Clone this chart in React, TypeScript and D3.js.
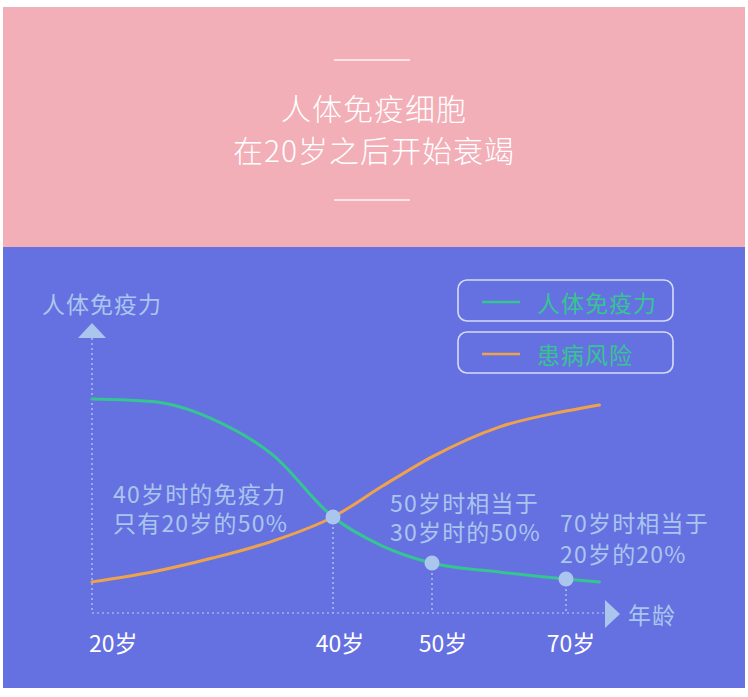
import React from "react";
import * as d3 from "d3";

const titleLines = ["人体免疫细胞", "在20岁之后开始衰竭"];
const ages = [20, 25, 30, 35, 40, 45, 50, 60, 70, 75];
const immunity = [100, 98.9, 91.5, 76.3, 50, 37.7, 30.5, 26.7, 23.7, 22.5];
const risk = [22.5, 26.7, 32.6, 39.8, 50, 63.1, 75.5, 88.1, 94.9, 97.5];
const tickAges = [20, 40, 50, 70];
const tickLabels = ["20岁", "40岁", "50岁", "70岁"];
const markerAges = [40, 50, 70];
const legendLabels = ["人体免疫力", "患病风险"];
const annotations = [
  { age: 40, lines: ["40岁时的免疫力", "只有20岁的50%"] },
  { age: 50, lines: ["50岁时相当于", "30岁时的50%"] },
  { age: 70, lines: ["70岁时相当于", "20岁的20%"] },
];
const yAxisLabel = "人体免疫力";
const xAxisLabel = "年龄";

const W = 748;
const H = 697;
const FONT = "'Noto Sans CJK SC', 'Noto Sans', sans-serif";
const PINK = "#f2afb8";
const BLUE = "#6571e1";
const GREEN = "#35c592";
const ORANGE = "#eea24c";
const LIGHT = "#aac6ee";
const DOT = "#c3cdf5";

export default function App() {
  const x = d3.scaleLinear().domain([20, 40, 50, 70]).range([92, 333, 432, 566]);
  const y = d3.scaleLinear().domain([0, 100]).range([635, 399]);
  const axisY = 613;
  const axisX = x(20);
  const line = d3
    .line<number>()
    .x((_, i) => x(ages[i]))
    .y((v) => y(v))
    .curve(d3.curveMonotoneX);
  const valueAt = (a: number) => immunity[ages.indexOf(a)];

  const annX = [x(40) - 220, x(50) - 42, x(70) - 6];
  const annY = [[492.5, 522], [502, 531], [522, 553]];
  const tickDx = [0, 7, 11, 5];

  return (
    <div style={{ position: "absolute", left: 0, top: 0 }}>
      <svg width={W} height={H} style={{ display: "block", fontFamily: FONT }}>
        <rect x={0} y={0} width={W} height={H} fill="#ffffff" />
        <rect x={3} y={7} width={742} height={240} fill={PINK} />
        <rect x={3} y={247} width={742} height={441} fill={BLUE} />

        {/* title */}
        <line x1={334} x2={410} y1={60} y2={60} stroke="#fbe3e7" strokeWidth={2} />
        <line x1={334} x2={410} y1={200} y2={200} stroke="#fbe3e7" strokeWidth={2} />
        {titleLines.map((t, i) => (
          <text
            key={t}
            x={374}
            y={106.5 + i * 42}
            textAnchor="middle"
            dominantBaseline="central"
            fill="#ffffff"
            fontSize={30}
            fontWeight={300}
            letterSpacing={1}
          >
            {t}
          </text>
        ))}

        {/* legend */}
        {legendLabels.map((lab, i) => (
          <g key={lab} transform={`translate(0, ${i * 52})`}>
            <rect x={458} y={280} width={215} height={41} rx={9} fill="none" stroke="#d6dcf8" strokeWidth={1.6} />
            <line x1={482} x2={520} y1={302} y2={302} stroke={i === 0 ? GREEN : ORANGE} strokeWidth={2.5} />
            <text x={537} y={302} dominantBaseline="central" fill={GREEN} fontSize={23} letterSpacing={1}>
              {lab}
            </text>
          </g>
        ))}

        {/* axes */}
        <text x={42} y={302.5} dominantBaseline="central" fill={LIGHT} fontSize={23} letterSpacing={1}>
          {yAxisLabel}
        </text>
        <path d={`M${axisX - 14},338 L${axisX + 14},338 L${axisX},323 Z`} fill={LIGHT} />
        <line x1={axisX} x2={axisX} y1={338} y2={axisY} stroke={DOT} strokeWidth={1.2} strokeDasharray="2,3" />
        <line x1={axisX} x2={605} y1={axisY} y2={axisY} stroke={DOT} strokeWidth={1.2} strokeDasharray="2,3" />
        <path d={`M605,600 L605,628 L620,614 Z`} fill={LIGHT} />
        <text x={628} y={614} dominantBaseline="central" fill={LIGHT} fontSize={23} letterSpacing={1}>
          {xAxisLabel}
        </text>

        {tickAges.map((a, i) => (
          <text
            key={a}
            x={i === 0 ? x(a) - 3 : x(a) + tickDx[i]}
            y={642}
            textAnchor={i === 0 ? "start" : "middle"}
            dominantBaseline="central"
            fill="#ffffff"
            fontSize={23}
          >
            {tickLabels[i]}
          </text>
        ))}

        {/* marker drop lines */}
        {markerAges.map((a) => (
          <line
            key={a}
            x1={x(a)}
            x2={x(a)}
            y1={y(valueAt(a))}
            y2={axisY}
            stroke={DOT}
            strokeWidth={1.2}
            strokeDasharray="2,3"
          />
        ))}

        {/* curves */}
        <path d={line(risk) || ""} fill="none" stroke={ORANGE} strokeWidth={3} strokeLinecap="round" />
        <path d={line(immunity) || ""} fill="none" stroke={GREEN} strokeWidth={3} strokeLinecap="round" />

        {markerAges.map((a) => (
          <circle key={a} cx={x(a)} cy={y(valueAt(a))} r={7.5} fill={LIGHT} />
        ))}

        {/* annotations */}
        {annotations.map((an, i) =>
          an.lines.map((l, j) => (
            <text
              key={`${i}-${j}`}
              x={annX[i]}
              y={annY[i][j]}
              dominantBaseline="central"
              fill={LIGHT}
              fontSize={23}
              letterSpacing={1.2}
            >
              {l}
            </text>
          ))
        )}
      </svg>
    </div>
  );
}
